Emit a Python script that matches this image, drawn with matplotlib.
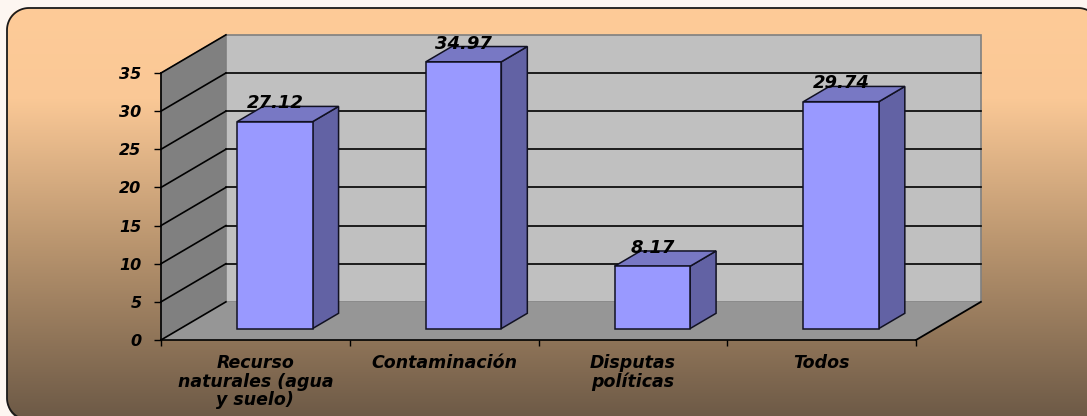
import matplotlib
matplotlib.use("Agg")
import matplotlib.pyplot as plt
from matplotlib.patches import Polygon, FancyBboxPatch
from matplotlib.colors import LinearSegmentedColormap
import numpy as np

categories = ["Recurso\nnaturales (agua\ny suelo)", "Contaminación", "Disputas\npolíticas", "Todos"]
values = [27.12, 34.97, 8.17, 29.74]
yticks = [0, 5, 10, 15, 20, 25, 30, 35]

W, H = 1087, 416
fig = plt.figure(figsize=(W / 100, H / 100), dpi=100)
fig.patch.set_facecolor("#fdf6f1")

# background: rounded box with vertical gradient (runs off the right/bottom edge)
bg = fig.add_axes([0, 0, 1, 1])
bg.axis("off")
grad = LinearSegmentedColormap.from_list("bgr", [
    (0.0, "#fecb98"), (0.22, "#fac896"), (0.58, "#b8946e"), (1.0, "#6c5946")])
img = bg.imshow(np.linspace(0, 1, 256).reshape(-1, 1), cmap=grad, aspect="auto",
                extent=(7, 1100, 420, 8), zorder=1)
box = FancyBboxPatch((7, 8), 1093, 412, boxstyle="round,pad=0,rounding_size=22",
                     facecolor="none", edgecolor="none", zorder=2)
bg.add_patch(box)
img.set_clip_path(box)
bg.set_xlim(0, W)
bg.set_ylim(H, 0)

# frame outline: bottom-left corner, left edge, top-left corner, top edge, top-right corner
r = 22
t = np.linspace(0, np.pi / 2, 30)
left_bot_x = 7 + r - r * np.cos(t[::-1])
left_bot_y = 420 - r + r * np.sin(t[::-1])
left_top_x = 7 + r - r * np.cos(t)
left_top_y = 8 + r - r * np.sin(t)
right_top_x = 1100 - r + r * np.sin(t)
right_top_y = 8 + r - r * np.cos(t)
ox = np.concatenate([left_bot_x, left_top_x, right_top_x])
oy = np.concatenate([left_bot_y, left_top_y, right_top_y])
bg.plot(ox, oy, color="#1a1a1a", lw=1.3, zorder=3)

# main chart axes (front plane)
ax = fig.add_axes([161 / W, 76 / H, 755 / W, 267 / H])
ax.set_facecolor("none")
n = len(values)
ymax = 35
ax.set_xlim(0, n)
ax.set_ylim(0, ymax)

ddx, ddy = 0.344, 5.0          # depth offset of back wall
d0, d1 = 0.3, 0.7              # bar depth range
bw = 0.4                       # bar width

# walls and floor
side = Polygon([(0, 0), (ddx, ddy), (ddx, ymax + ddy), (0, ymax)], closed=True,
               facecolor="#808080", edgecolor="#707070", lw=0.8, clip_on=False, zorder=1)
back = Polygon([(ddx, ddy), (n + ddx, ddy), (n + ddx, ymax + ddy), (ddx, ymax + ddy)], closed=True,
               facecolor="#c0c0c0", edgecolor="#808080", lw=1.2, clip_on=False, zorder=1)
floor = Polygon([(0, 0), (n, 0), (n + ddx, ddy), (ddx, ddy)], closed=True,
                facecolor="#969696", edgecolor="none", clip_on=False, zorder=1)
for p in (side, back, floor):
    ax.add_patch(p)

for v in yticks:
    ax.plot([0, ddx], [v, v + ddy], color="black", lw=1.2, clip_on=False, zorder=2)
    if 0 < v < ymax:
        ax.plot([ddx, n + ddx], [v + ddy, v + ddy], color="black", lw=1.2, clip_on=False, zorder=2)
ax.plot([n, n + ddx], [0, ddy], color="black", lw=1.3, clip_on=False, zorder=2)

# 3D bars
for i, v in enumerate(values):
    x0 = i + 0.5 - bw / 2 + d0 * ddx
    x1 = x0 + bw
    y0 = d0 * ddy
    dx, dy = (d1 - d0) * ddx, (d1 - d0) * ddy
    front = [(x0, y0), (x1, y0), (x1, y0 + v), (x0, y0 + v)]
    right = [(x1, y0), (x1 + dx, y0 + dy), (x1 + dx, y0 + v + dy), (x1, y0 + v)]
    top = [(x0, y0 + v), (x1, y0 + v), (x1 + dx, y0 + v + dy), (x0 + dx, y0 + v + dy)]
    for pts, col in ((right, "#6262a4"), (top, "#7878c4"), (front, "#9999ff")):
        ax.add_patch(Polygon(pts, closed=True, facecolor=col, edgecolor="#111122",
                             lw=1.1, clip_on=False, zorder=3))
    ax.annotate(f"{v:.2f}", xy=(x0 + bw / 2, y0 + v + dy), xytext=(0, 3),
                textcoords="offset pixels", ha="center", va="center",
                fontsize=13, fontweight="bold", fontstyle="italic", zorder=5,
                annotation_clip=False)

# axes, ticks, labels
for s in ("top", "right"):
    ax.spines[s].set_visible(False)
for s in ("left", "bottom"):
    ax.spines[s].set_color("black")
    ax.spines[s].set_linewidth(1.2)
    ax.spines[s].set_zorder(4)

ax.set_yticks(yticks)
ax.set_yticklabels([str(t) for t in yticks], fontsize=11.5, fontweight="bold", fontstyle="italic")
ax.tick_params(axis="y", length=5, width=1, pad=9, color="black")

ax.set_xticks(np.arange(n + 1))
ax.set_xticklabels([])
ax.tick_params(axis="x", which="major", length=4, width=1, color="black")
ax.set_xticks(np.arange(n) + 0.5, minor=True)
ax.set_xticklabels(categories, minor=True, fontsize=12.5, fontweight="bold",
                   fontstyle="italic", linespacing=1.05, va="top")
ax.tick_params(axis="x", which="minor", length=0, pad=10)

fig.savefig("out.png", dpi=100, facecolor=fig.get_facecolor())
